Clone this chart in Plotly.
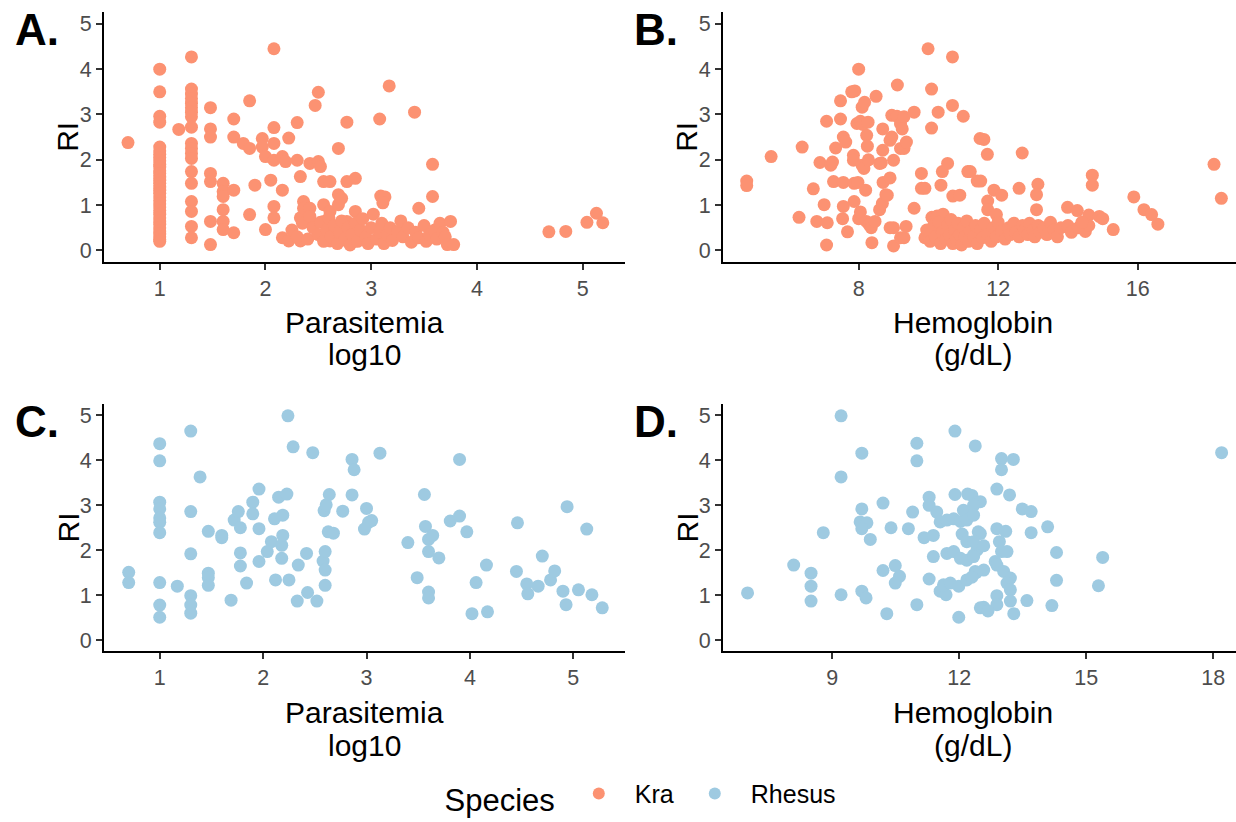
import plotly.graph_objects as go

# ---------------- data ----------------
species = ["Kra", "Rhesus"]
species_colors = {"Kra": "#FC9272", "Rhesus": "#9ECAE1"}

# Panel A: Kra, parasitemia (log10) vs RI
kra_parasitemia_ri = [
    (0.70, 2.38),
    (1.0, 4.0), (1.0, 3.5), (1.0, 2.96), (1.0, 2.83), (1.0, 2.28), (1.0, 2.2), (1.0, 2.12),
    (1.0, 2.05), (1.0, 1.98), (1.0, 1.9), (1.0, 1.84), (1.0, 1.76), (1.0, 1.7), (1.0, 1.62),
    (1.0, 1.55), (1.0, 1.48), (1.0, 1.4), (1.0, 1.33), (1.0, 1.26), (1.0, 1.18), (1.0, 1.1),
    (1.0, 1.03), (1.0, 0.96), (1.0, 0.88), (1.0, 0.8), (1.0, 0.72), (1.0, 0.65), (1.0, 0.58),
    (1.0, 0.5), (1.0, 0.43), (1.0, 0.36), (1.0, 0.3), (1.0, 0.24), (1.0, 0.2),
    (1.18, 2.67),
    (1.30, 4.27), (1.30, 3.56), (1.30, 3.45), (1.30, 3.35), (1.30, 3.25), (1.30, 3.15), (1.30, 3.05),
    (1.30, 2.95), (1.30, 2.72), (1.30, 2.36), (1.30, 2.25), (1.30, 2.14), (1.30, 2.03), (1.30, 1.74),
    (1.30, 1.48), (1.30, 1.08), (1.30, 0.86), (1.30, 0.53), (1.30, 0.28),
    (1.48, 3.15), (1.48, 2.68), (1.48, 2.50), (1.48, 1.70), (1.48, 1.52), (1.48, 0.64), (1.48, 0.13),
    (1.60, 1.48), (1.60, 1.30), (1.60, 1.19), (1.60, 0.90), (1.60, 0.64), (1.60, 0.46),
    (1.70, 2.90), (1.70, 2.50), (1.70, 1.33), (1.70, 0.39),
    (1.79, 2.36), (1.85, 3.30), (1.85, 2.25), (1.85, 0.79), (1.90, 1.44), (1.97, 2.47), (1.97, 2.28),
    (2.00, 2.07), (2.00, 0.46), (2.05, 1.55),
    (2.08, 4.45), (2.08, 2.71), (2.08, 2.36), (2.08, 1.99), (2.08, 0.97), (2.08, 0.72),
    (2.16, 2.07), (2.16, 1.33), (2.16, 0.28), (2.19, 1.96), (2.22, 2.48), (2.22, 0.21),
    (2.30, 2.82), (2.30, 1.99),
    (2.33, 1.63), (2.33, 0.72), (2.33, 0.21), (2.36, 1.08), (2.36, 0.93), (2.42, 1.92), (2.42, 0.93),
    (2.42, 0.68), (2.47, 3.20), (2.50, 3.49), (2.50, 1.96), (2.52, 1.85), (2.55, 1.52), (2.55, 1.01),
    (2.55, 0.64), (2.55, 0.35), (2.61, 1.52), (2.61, 0.86), (2.61, 0.35), (2.61, 0.21), (2.69, 2.25),
    (2.69, 1.23), (2.69, 1.01), (2.72, 1.15), (2.77, 2.83), (2.77, 1.52), (2.77, 0.64), (2.77, 0.35),
    (2.77, 0.21), (2.85, 1.59), (2.85, 0.86), (2.85, 0.57), (2.85, 0.21),
    (2.25, 0.45), (2.30, 0.30), (2.35, 0.60), (2.40, 0.25), (2.42, 0.75), (2.45, 0.50), (2.50, 0.35),
    (2.52, 0.62), (2.55, 0.20), (2.58, 0.45), (2.60, 0.72), (2.62, 0.30), (2.65, 0.55), (2.68, 0.15),
    (2.70, 0.40), (2.72, 0.65), (2.75, 0.25), (2.78, 0.50), (2.80, 0.12), (2.82, 0.35), (2.85, 0.60),
    (2.87, 0.20), (2.90, 0.45), (2.92, 0.70), (2.95, 0.30), (2.97, 0.15), (3.00, 0.50), (3.02, 0.80),
    (3.05, 0.25), (3.08, 0.40), (3.10, 0.60), (3.12, 0.15), (3.15, 0.35), (3.18, 0.50), (3.20, 0.22),
    (3.25, 0.42), (3.28, 0.65), (3.30, 0.30), (3.35, 0.50), (3.38, 0.18), (3.42, 0.40), (3.45, 0.28),
    (3.50, 0.55), (3.52, 0.20), (3.55, 0.35), (3.60, 0.45), (3.62, 0.25), (3.65, 0.60), (3.68, 0.40),
    (3.70, 0.30),
    (3.17, 3.63), (3.08, 2.90), (3.41, 3.05), (3.58, 1.90), (3.58, 1.19), (3.45, 0.93), (3.09, 1.20),
    (3.13, 1.18), (3.11, 1.05), (3.75, 0.64), (3.72, 0.13), (3.78, 0.13),
    (4.68, 0.41), (4.84, 0.42), (5.04, 0.62), (5.13, 0.82), (5.19, 0.61),
]

# Panel B: Kra, hemoglobin (g/dL) vs RI
kra_hemoglobin_ri = [
    (4.79, 1.53), (4.79, 1.43), (5.49, 2.07), (6.38, 2.28), (6.29, 0.73), (6.70, 1.36), (6.80, 0.64),
    (6.89, 1.94), (7.01, 1.01), (7.08, 2.85), (7.10, 0.61), (7.08, 0.12), (7.20, 1.88), (7.25, 1.95),
    (7.28, 1.52), (7.34, 2.26), (7.48, 3.30), (7.48, 2.90), (7.56, 2.50), (7.56, 1.50), (7.56, 0.97),
    (7.54, 0.70), (7.68, 0.41), (7.63, 2.39), (7.80, 3.50), (7.89, 3.52), (8.00, 4.00), (7.95, 2.80),
    (8.05, 2.85), (8.12, 2.78), (7.85, 2.10), (7.85, 1.99), (7.87, 1.48), (7.98, 1.50), (7.87, 1.08),
    (8.00, 0.70), (8.05, 0.85), (8.10, 3.16), (8.17, 3.27), (8.10, 1.88), (8.15, 1.81), (8.23, 2.54),
    (8.25, 2.30), (8.28, 2.00), (8.20, 1.33), (8.22, 0.64), (8.30, 0.57), (8.27, 2.83), (8.36, 0.50),
    (8.38, 0.17), (8.50, 3.40), (8.47, 0.64), (8.60, 1.92), (8.65, 1.93), (8.69, 2.68), (8.69, 2.21),
    (8.60, 0.90), (8.68, 1.04), (8.78, 1.23), (8.82, 1.22), (8.70, 1.50), (8.90, 1.60), (8.90, 2.43),
    (8.95, 2.50), (8.95, 2.98), (9.10, 2.96), (9.00, 1.99), (8.90, 0.50), (9.00, 0.50), (9.00, 0.10),
    (9.11, 3.65), (9.20, 2.79), (9.30, 2.95), (9.25, 2.68), (9.20, 2.25), (9.30, 2.25), (9.37, 2.39),
    (9.20, 0.28), (9.30, 0.28), (9.36, 0.53), (9.59, 3.05), (9.59, 0.93), (9.80, 1.70), (9.80, 1.37),
    (9.90, 1.37), (9.90, 0.28), (9.99, 4.45), (10.09, 3.56), (10.09, 2.70), (10.10, 0.73), (10.25, 0.76),
    (10.42, 0.80), (10.28, 3.05), (10.36, 1.44), (10.40, 1.74), (10.55, 1.92), (10.69, 4.27),
    (10.69, 3.20), (10.70, 1.20), (10.90, 1.22), (11.00, 2.96), (11.13, 1.74), (11.48, 2.47),
    (11.59, 2.45), (11.69, 2.12), (12.69, 2.15), (11.20, 1.74), (11.40, 1.53), (11.50, 1.53),
    (11.88, 1.33), (12.10, 1.22), (12.60, 1.37), (13.14, 1.46), (13.10, 1.23), (11.70, 1.09),
    (11.70, 0.90), (11.95, 0.79), (13.10, 0.90), (13.99, 0.95), (14.27, 0.88), (14.70, 1.66),
    (14.70, 1.44), (14.60, 0.78), (14.90, 0.75), (15.00, 0.70), (15.30, 0.46), (15.89, 1.18),
    (16.18, 0.90), (16.40, 0.79), (16.58, 0.58), (18.19, 1.90), (18.40, 1.15),
    (9.95, 0.45), (10.05, 0.20), (10.15, 0.55), (10.20, 0.30), (10.30, 0.62), (10.35, 0.15),
    (10.40, 0.40), (10.50, 0.25), (10.55, 0.55), (10.60, 0.35), (10.65, 0.68), (10.70, 0.15),
    (10.75, 0.45), (10.80, 0.25), (10.85, 0.60), (10.90, 0.35), (10.95, 0.12), (11.00, 0.50),
    (11.05, 0.30), (11.10, 0.65), (11.15, 0.20), (11.20, 0.42), (11.30, 0.30), (11.35, 0.55),
    (11.40, 0.15), (11.50, 0.45), (11.55, 0.28), (11.60, 0.60), (11.70, 0.35), (11.80, 0.20),
    (11.85, 0.50), (11.95, 0.30), (12.00, 0.62), (12.10, 0.42), (12.20, 0.25), (12.30, 0.50),
    (12.35, 0.35), (12.45, 0.60), (12.50, 0.40), (12.60, 0.30), (12.70, 0.55), (12.75, 0.45),
    (12.85, 0.35), (12.90, 0.60), (13.00, 0.45), (13.05, 0.30), (13.15, 0.55), (13.20, 0.40),
    (13.30, 0.50), (13.40, 0.35), (13.50, 0.62), (13.60, 0.45), (13.70, 0.30), (13.80, 0.50),
    (14.00, 0.55), (14.10, 0.40), (14.30, 0.50), (14.50, 0.42), (14.60, 0.55), (14.40, 0.62),
]

# Panel C: Rhesus, parasitemia (log10) vs RI
rhesus_parasitemia_ri = [
    (0.70, 1.51), (0.70, 1.28),
    (1.0, 4.37), (1.0, 3.99), (1.0, 3.07), (1.0, 2.92), (1.0, 2.72), (1.0, 2.62), (1.0, 2.39),
    (1.0, 1.28), (1.0, 0.78), (1.0, 0.51),
    (1.17, 1.20),
    (1.30, 4.65), (1.30, 2.86), (1.30, 1.92), (1.30, 0.99), (1.30, 0.78), (1.30, 0.60),
    (1.39, 3.63), (1.47, 2.42), (1.47, 1.49), (1.47, 1.39), (1.47, 1.22), (1.60, 2.33), (1.60, 2.28),
    (1.69, 0.89), (1.72, 2.67), (1.76, 2.86), (1.78, 2.50), (1.78, 1.94), (1.78, 1.65), (1.84, 1.27),
    (1.90, 3.07), (1.90, 2.81), (1.96, 3.36), (1.96, 2.48), (1.96, 1.75), (2.04, 1.97), (2.08, 2.19),
    (2.11, 2.70), (2.12, 1.34), (2.15, 3.18), (2.23, 3.25), (2.19, 2.78), (2.18, 2.11), (2.19, 2.33),
    (2.18, 1.82), (2.24, 4.99), (2.25, 1.34), (2.29, 4.30), (2.34, 1.67), (2.33, 0.87), (2.42, 1.93),
    (2.43, 1.06), (2.48, 4.17), (2.52, 0.87), (2.58, 1.76), (2.60, 1.56), (2.60, 1.97), (2.60, 1.22),
    (2.59, 2.88), (2.61, 3.01), (2.64, 3.24), (2.63, 2.41), (2.68, 2.38), (2.77, 2.87), (2.86, 4.02),
    (2.88, 3.79), (2.86, 3.23), (3.00, 2.93), (3.05, 2.66), (3.02, 2.62), (2.98, 2.47),
    (3.13, 4.16), (3.40, 2.17), (3.56, 3.24), (3.57, 2.53), (3.60, 2.24), (3.64, 2.33), (3.60, 1.97),
    (3.70, 1.83), (3.49, 1.39), (3.60, 1.07), (3.60, 0.94), (3.81, 2.65), (3.90, 2.76), (3.90, 4.02),
    (3.97, 2.41), (4.06, 1.28), (4.16, 1.67), (4.02, 0.59), (4.17, 0.63), (4.46, 2.61), (4.45, 1.53),
    (4.55, 1.25), (4.56, 1.03), (4.66, 1.20), (4.70, 1.87), (4.78, 1.34), (4.82, 1.54), (4.90, 1.09),
    (4.93, 0.79), (4.94, 2.97), (5.05, 1.12), (5.13, 2.47), (5.18, 1.01), (5.28, 0.72),
]

# Panel D: Rhesus, hemoglobin (g/dL) vs RI
rhesus_hemoglobin_ri = [
    (7.00, 1.05), (8.09, 1.67), (8.50, 1.49), (8.50, 1.20), (8.50, 0.87), (8.79, 2.39), (9.21, 4.99),
    (9.21, 3.63), (9.21, 1.01), (9.70, 4.16), (9.70, 2.92), (9.66, 2.63), (9.82, 2.61), (9.70, 2.48),
    (9.90, 2.24), (9.70, 1.09), (9.80, 0.94), (10.20, 3.05), (10.39, 2.50), (10.20, 1.55),
    (10.49, 1.66), (10.59, 1.42), (10.49, 1.27), (10.29, 0.59), (10.80, 2.48), (10.90, 2.85),
    (11.00, 4.38), (11.00, 3.99), (11.00, 0.79), (11.17, 2.28), (11.39, 2.33), (11.29, 1.36),
    (11.29, 3.18), (11.29, 3.00), (11.39, 1.86),
    (11.47, 2.85), (11.55, 2.63), (11.71, 2.67), (11.87, 2.70), (12.03, 2.64), (12.10, 2.89),
    (12.18, 2.67), (12.30, 3.22), (11.71, 1.93), (11.87, 1.97), (12.03, 1.82), (12.18, 1.78),
    (12.34, 1.89), (12.42, 2.00), (11.55, 1.09), (11.69, 1.01), (11.63, 1.23), (11.79, 1.27),
    (11.90, 4.65), (11.90, 3.24), (12.20, 3.25), (12.07, 2.36), (12.18, 2.19), (11.99, 0.51),
    (11.99, 1.20), (12.18, 1.34), (12.38, 1.53), (12.38, 4.32), (12.50, 0.72), (12.45, 2.41),
    (13.00, 4.04), (13.28, 4.02), (13.00, 3.79), (12.89, 3.36), (13.19, 3.23), (12.50, 3.08),
    (12.34, 3.00), (12.34, 2.78), (13.49, 2.92), (13.70, 2.86), (12.89, 2.48), (13.10, 2.42),
    (14.09, 2.52), (13.70, 2.39), (12.50, 2.37), (12.34, 2.19), (12.58, 2.10), (12.95, 2.19),
    (13.00, 1.97), (13.13, 1.97), (12.34, 1.86), (14.30, 1.95), (15.39, 1.84), (12.85, 1.75),
    (12.89, 1.67), (12.58, 1.56), (12.40, 1.50), (12.30, 1.40), (13.05, 1.53), (13.21, 1.38),
    (13.13, 1.27), (13.21, 1.12), (14.30, 1.33), (15.29, 1.21), (12.89, 0.99), (12.89, 0.79),
    (13.21, 0.87), (12.58, 0.73), (12.68, 0.65), (13.29, 0.59), (13.60, 0.88), (14.19, 0.77),
    (18.20, 4.17),
]

ri_ticks = [0, 1, 2, 3, 4, 5]
parasitemia_ticks = [1, 2, 3, 4, 5]
hb_ticks_kra = [8, 12, 16]
hb_ticks_rhesus = [9, 12, 15, 18]
panel_labels = ["A.", "B.", "C.", "D."]
parasitemia_title = ["Parasitemia", "log10"]
hemoglobin_title = ["Hemoglobin", "(g/dL)"]

# ---------------- layout geometry (pixels of the 1236x822 page) ----------------
W, H = 1236, 822
FONT = "Liberation Sans, Arial, sans-serif"


def fx(p):
    return p / W


def fy(p):
    return 1 - p / H


left_dom = [fx(104), fx(625)]
right_dom = [fx(723), 1.0]
top_dom = [fy(264), fy(12.6)]
bot_dom = [fy(657), fy(407.6)]

fig = go.Figure()

panels = [
    ("x", "y", kra_parasitemia_ri, "Kra", True),
    ("x2", "y2", kra_hemoglobin_ri, "Kra", False),
    ("x3", "y3", rhesus_parasitemia_ri, "Rhesus", True),
    ("x4", "y4", rhesus_hemoglobin_ri, "Rhesus", False),
]
for xa, ya, pts, sp, show in panels:
    xs, ys = zip(*pts)
    fig.add_trace(go.Scatter(
        x=list(xs), y=list(ys), mode="markers", name=sp, legendgroup=sp,
        showlegend=show, xaxis=xa, yaxis=ya,
        marker=dict(color=species_colors[sp], size=13, line=dict(width=0), opacity=1),
        cliponaxis=False,
    ))

axis_common = dict(
    showline=True, linecolor="black", linewidth=2, mirror=False,
    ticks="outside", ticklen=6, tickwidth=2, tickcolor="#333333",
    showgrid=False, zeroline=False, automargin=False,
    tickfont=dict(family=FONT, size=21.5, color="#4D4D4D"),
)

fig.update_layout(
    width=W, height=H,
    margin=dict(l=0, r=0, t=0, b=0),
    paper_bgcolor="white", plot_bgcolor="white",
    template="none",
    font=dict(family=FONT),
    xaxis=dict(domain=left_dom, anchor="y", range=[0.473, 5.40], tickvals=parasitemia_ticks, **axis_common),
    yaxis=dict(domain=top_dom, anchor="x", range=[-0.25, 5.25], tickvals=ri_ticks, **axis_common),
    xaxis2=dict(domain=right_dom, anchor="y2", range=[4.11, 18.82], tickvals=hb_ticks_kra, **axis_common),
    yaxis2=dict(domain=top_dom, anchor="x2", range=[-0.25, 5.25], tickvals=ri_ticks, **axis_common),
    xaxis3=dict(domain=left_dom, anchor="y3", range=[0.461, 5.50], tickvals=parasitemia_ticks, **axis_common),
    yaxis3=dict(domain=bot_dom, anchor="x3", range=[-0.25, 5.25], tickvals=ri_ticks, **axis_common),
    xaxis4=dict(domain=right_dom, anchor="y4", range=[6.42, 18.54], tickvals=hb_ticks_rhesus, **axis_common),
    yaxis4=dict(domain=bot_dom, anchor="x4", range=[-0.25, 5.25], tickvals=ri_ticks, **axis_common),
    showlegend=True,
    legend=dict(
        orientation="h", x=fx(642), xanchor="center", y=fy(803), yanchor="middle",
        title=dict(text="Species", font=dict(family=FONT, size=31, color="black"), side="left"),
        font=dict(family=FONT, size=25, color="black"),
        itemsizing="constant", bgcolor="rgba(0,0,0,0)", itemwidth=62,
    ),
)

annotations = []
# panel labels
for lab, (px_, py_) in zip(panel_labels, [(13, 30), (632, 30), (13, 425), (632, 425)]):
    annotations.append(dict(text=f"<b>{lab}</b>", x=fx(px_), y=fy(py_), xref="paper", yref="paper",
                            xanchor="left", yanchor="middle", showarrow=False,
                            font=dict(family=FONT, size=44, color="black")))
# y titles
for px_, py_ in [(68, 138), (687, 138), (68, 532), (687, 532)]:
    annotations.append(dict(text="RI", x=fx(px_), y=fy(py_), xref="paper", yref="paper",
                            xanchor="center", yanchor="middle", textangle=-90, showarrow=False,
                            font=dict(family=FONT, size=30, color="black")))
# x titles (two lines each)
for lines, px_, py_ in [(parasitemia_title, 364.5, 325), (hemoglobin_title, 973, 325),
                        (parasitemia_title, 364.5, 719), (hemoglobin_title, 973, 719)]:
    for i, line in enumerate(lines):
        annotations.append(dict(text=line, x=fx(px_), y=fy(py_ + 33 * i), xref="paper", yref="paper",
                                xanchor="center", yanchor="middle", showarrow=False,
                                font=dict(family=FONT, size=30, color="black")))
fig.update_layout(annotations=annotations)

fig.write_html("out.html")
